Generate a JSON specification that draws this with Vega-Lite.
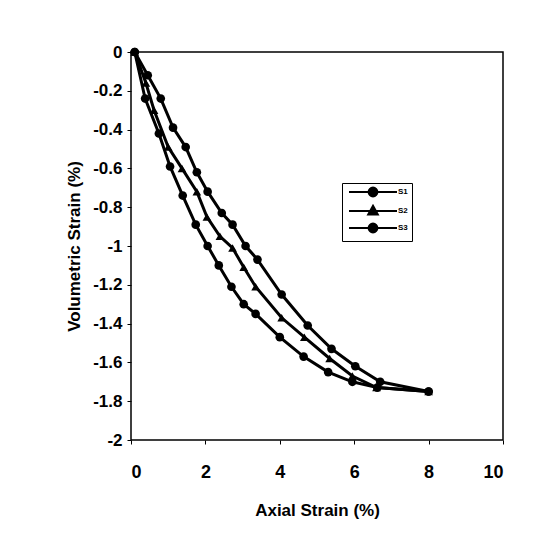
{
  "$schema": "https://vega.github.io/schema/vega-lite/v6.json",
  "width": 372,
  "height": 388,
  "autosize": {"type": "none"},
  "padding": {"left": 131, "top": 52, "right": 48, "bottom": 104},
  "background": "white",
  "config": {
    "view": {"stroke": "black", "strokeWidth": 1.5},
    "font": "Liberation Sans"
  },
  "data": {
    "values": [
      {"series": "S1", "x": 0.1, "y": 0},
      {"series": "S1", "x": 0.45, "y": -0.12},
      {"series": "S1", "x": 0.8, "y": -0.24},
      {"series": "S1", "x": 1.13, "y": -0.39},
      {"series": "S1", "x": 1.47, "y": -0.49},
      {"series": "S1", "x": 1.77, "y": -0.62},
      {"series": "S1", "x": 2.06, "y": -0.72},
      {"series": "S1", "x": 2.44, "y": -0.83},
      {"series": "S1", "x": 2.73, "y": -0.89},
      {"series": "S1", "x": 3.08, "y": -1.0},
      {"series": "S1", "x": 3.4, "y": -1.07},
      {"series": "S1", "x": 4.05, "y": -1.25},
      {"series": "S1", "x": 4.75, "y": -1.41},
      {"series": "S1", "x": 5.39, "y": -1.53},
      {"series": "S1", "x": 6.03, "y": -1.62},
      {"series": "S1", "x": 6.7, "y": -1.7},
      {"series": "S1", "x": 8.0, "y": -1.75},
      {"series": "S2", "x": 0.1, "y": 0},
      {"series": "S2", "x": 0.4, "y": -0.16},
      {"series": "S2", "x": 0.62, "y": -0.3},
      {"series": "S2", "x": 1.0, "y": -0.49},
      {"series": "S2", "x": 1.37, "y": -0.6},
      {"series": "S2", "x": 1.77, "y": -0.72},
      {"series": "S2", "x": 2.04, "y": -0.85},
      {"series": "S2", "x": 2.39, "y": -0.95},
      {"series": "S2", "x": 2.73, "y": -1.01},
      {"series": "S2", "x": 3.03, "y": -1.11},
      {"series": "S2", "x": 3.35, "y": -1.21},
      {"series": "S2", "x": 4.05, "y": -1.37},
      {"series": "S2", "x": 4.66, "y": -1.47},
      {"series": "S2", "x": 5.34, "y": -1.58},
      {"series": "S2", "x": 5.95, "y": -1.67},
      {"series": "S2", "x": 6.6, "y": -1.73},
      {"series": "S2", "x": 8.0, "y": -1.75},
      {"series": "S3", "x": 0.1, "y": 0},
      {"series": "S3", "x": 0.38, "y": -0.24},
      {"series": "S3", "x": 0.75, "y": -0.42},
      {"series": "S3", "x": 1.05, "y": -0.59},
      {"series": "S3", "x": 1.39, "y": -0.74},
      {"series": "S3", "x": 1.74, "y": -0.89},
      {"series": "S3", "x": 2.06, "y": -1.0},
      {"series": "S3", "x": 2.36, "y": -1.1},
      {"series": "S3", "x": 2.7, "y": -1.21},
      {"series": "S3", "x": 3.03, "y": -1.3},
      {"series": "S3", "x": 3.35, "y": -1.35},
      {"series": "S3", "x": 4.0, "y": -1.47},
      {"series": "S3", "x": 4.64, "y": -1.57},
      {"series": "S3", "x": 5.3, "y": -1.65},
      {"series": "S3", "x": 5.95, "y": -1.7},
      {"series": "S3", "x": 6.62, "y": -1.73},
      {"series": "S3", "x": 8.0, "y": -1.75}
    ]
  },
  "encoding": {
    "x": {
      "field": "x", "type": "quantitative",
      "scale": {"domain": [0, 10], "nice": false},
      "axis": {
        "title": "Axial Strain (%)", "values": [0, 2, 4, 6, 8, 10],
        "grid": false, "domain": false, "tickColor": "black", "tickSize": 4,
        "labelFontSize": 18, "labelFontWeight": "bold", "labelColor": "black", "labelPadding": 19,
        "titleFontSize": 17, "titleFontWeight": "bold", "titleColor": "black", "titlePadding": 21
      }
    },
    "y": {
      "field": "y", "type": "quantitative",
      "scale": {"domain": [-2, 0], "nice": false},
      "axis": {
        "title": "Volumetric Strain (%)", "values": [0, -0.2, -0.4, -0.6, -0.8, -1, -1.2, -1.4, -1.6, -1.8, -2],
        "labelExpr": "toString(datum.value)",
        "grid": false, "domain": false, "tickColor": "black", "tickSize": 4,
        "labelFontSize": 17, "labelFontWeight": "bold", "labelColor": "black", "labelPadding": 5,
        "titleFontSize": 17, "titleFontWeight": "bold", "titleColor": "black", "titlePadding": 9
      }
    },
    "color": {
      "field": "series", "type": "nominal",
      "scale": {"range": ["black", "black", "black"]},
      "legend": null
    }
  },
  "layer": [
    {
      "mark": {"type": "line", "strokeWidth": 3}
    },
    {
      "mark": {"type": "point", "filled": true, "size": 75, "opacity": 1},
      "encoding": {
        "shape": {
          "field": "series", "type": "nominal",
          "scale": {"range": ["circle", "triangle-up", "circle"]},
          "legend": null
        }
      }
    },
    {
      "mark": {"type": "point", "filled": true, "size": 60, "opacity": 0},
      "encoding": {
        "shape": {
          "field": "series", "type": "nominal",
          "scale": {"range": [
            "M-6,0H6M-1.1,0A1.1,1.1 0 1,0 1.1,0A1.1,1.1 0 1,0 -1.1,0Z",
            "M-6,0H6M0,-1.3L1.2,0.9L-1.2,0.9Z",
            "M-6,0H6M-1.1,0A1.1,1.1 0 1,0 1.1,0A1.1,1.1 0 1,0 -1.1,0Z"
          ]},
          "legend": {
            "title": null, "orient": "none", "legendX": 211, "legendY": 131,
            "strokeColor": "black", "padding": 4, "rowPadding": 0,
            "symbolFillColor": "black", "symbolStrokeColor": "black", "symbolSize": 64, "symbolStrokeWidth": 2,
            "symbolOpacity": 1, "symbolOffset": 22,
            "labelFontSize": 8, "labelFontWeight": "bold", "labelColor": "black", "labelOffset": 20
          }
        }
      }
    }
  ],
  "resolve": {"scale": {"shape": "independent"}, "legend": {"shape": "independent"}}
}
